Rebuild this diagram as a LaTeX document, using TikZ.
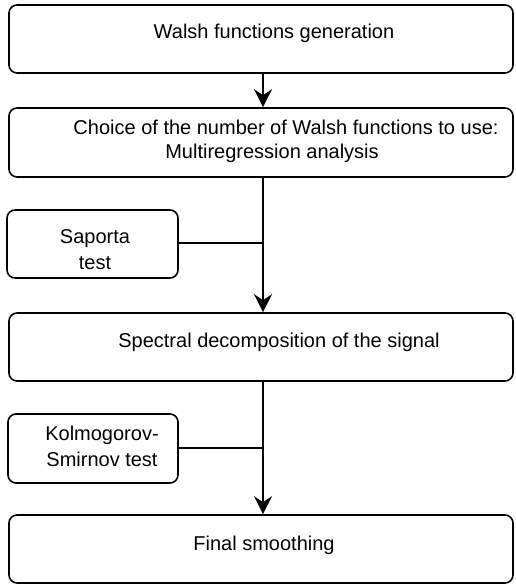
\documentclass[tikz,border=0pt]{standalone}
\usepackage{fontspec}
\setmainfont{Liberation Sans}
\usetikzlibrary{arrows.meta}
\begin{document}
\begin{tikzpicture}[x=1pt,y=-1pt,
  box/.style={draw,line width=1.6pt,rounded corners=8pt,inner sep=0pt},
  txt/.style={inner sep=0pt,align=center,font=\fontsize{20}{26}\selectfont},
  flow/.style={line width=1.6pt,-{Stealth[length=18pt,width=18pt,inset=6pt]}},
  link/.style={line width=1.3pt}]
\useasboundingbox (0,0) rectangle (515,585);
% main boxes
\node[box,minimum width=504pt,minimum height=68pt] (b1) at (261,39) {};
\node[box,minimum width=504pt,minimum height=69pt] (b2) at (261,142.5) {};
\node[box,minimum width=504pt,minimum height=68pt] (b3) at (261,347) {};
\node[box,minimum width=504pt,minimum height=68pt] (b4) at (261,549) {};
% side boxes
\node[box,minimum width=171pt,minimum height=68pt] (s1) at (92.5,244) {};
\node[box,minimum width=170pt,minimum height=69pt] (s2) at (93,448.5) {};
% texts
\node[txt] (t1) at (274,33) {Walsh functions generation};
\node[txt] (t2a) at (286,127) {Choice of the number of Walsh functions to use:};
\node[txt] (t2b) at (272,153) {Multiregression analysis};
\node[txt] (t3) at (279,342) {Spectral decomposition of the signal};
\node[txt] (t4) at (264,545) {Final smoothing};
\node[txt] (t5) at (95,250) {Saporta\\test};
\node[txt] (t6) at (102,446) {Kolmogorov-\\Smirnov test};
% connectors
\coordinate (j1) at (263,243);
\coordinate (j2) at (263,448);
\draw[flow] (b1.south -| j1) -- (b2.north -| j1);
\draw[flow] (b2.south -| j1) -- (b3.north -| j1);
\draw[flow] (b3.south -| j1) -- (b4.north -| j1);
\draw[link] (s1.east |- j1) -- (j1);
\draw[link] (s2.east |- j2) -- (j2);
\end{tikzpicture}
\end{document}
